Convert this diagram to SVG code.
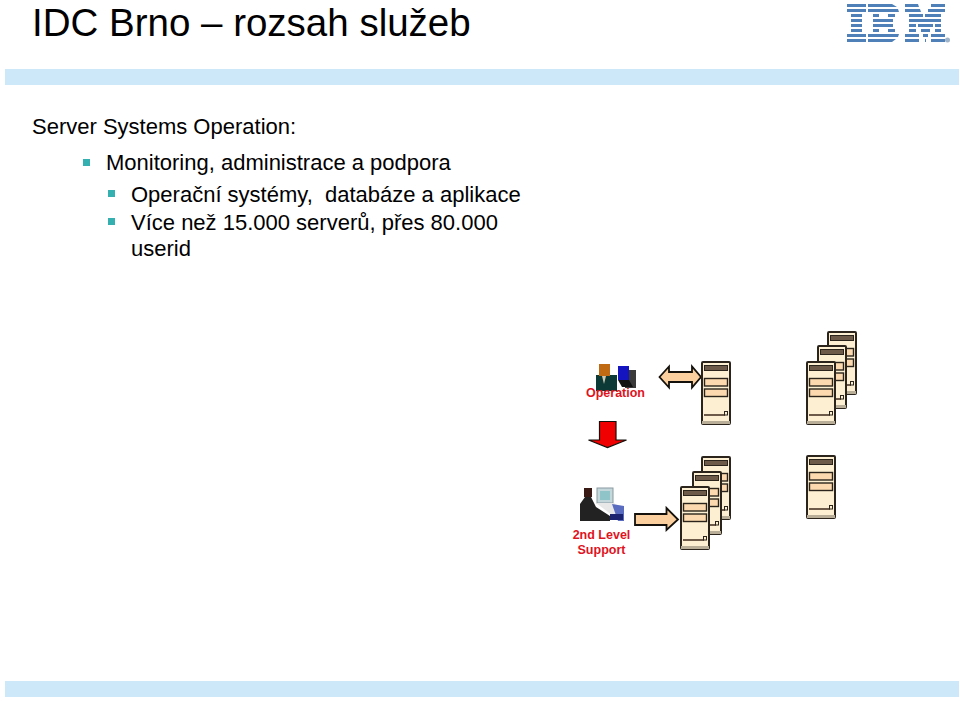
<svg xmlns="http://www.w3.org/2000/svg" width="960" height="701" viewBox="0 0 960 701">
<style>
text{font-family:"Liberation Sans",Arial,sans-serif;fill:#000;white-space:pre}
.b{font-size:22px}
.r{font-size:12.5px;font-weight:bold;fill:#e0141e;text-anchor:middle}
.band{fill:#cde8f8}
.l{fill:#4f81b8}
.bul{fill:#35b0b0}
.a{fill:#fbcf9e;stroke:#14110c;stroke-width:1.8}
</style>
<defs>
<symbol id="srv" viewBox="0 0 30 64" width="30" height="64" overflow="visible">
<rect x="1" y="1" width="28" height="62" rx="1" fill="#fdf0d2" stroke="#2a241c" stroke-width="2"/>
<rect x="1" y="60" width="28" height="3" fill="#b9ae98"/>
<rect x="3.500" y="4.500" width="23" height="5" fill="#6e5a48" stroke="#2a241c"/>
<rect x="3.500" y="17.500" width="23" height="7.500" fill="#fcd9ae" stroke="#2a241c" stroke-width="1.400"/>
<rect x="3.500" y="28" width="23" height="7.500" fill="#fcd9ae" stroke="#2a241c" stroke-width="1.400"/>
<rect x="3" y="53" width="21" height="2" fill="#6e5a48"/>
<rect x="23.500" y="50.500" width="3" height="3.500" fill="#fdf0d2" stroke="#2a241c"/>
</symbol>
</defs>
<rect width="960" height="701" fill="#fff"/>
<g id="bands">
<rect class="band" x="5" y="69" width="954" height="16"/>
<rect class="band" x="5" y="681" width="954" height="16"/>
</g>
<g id="title"><text x="32" y="36" font-size="38.500">IDC Brno – rozsah služeb</text></g>
<g id="logo" class="l">
<path d="M847 4h19v3h-19zM868 4h24l5 3h-29zM905 4h13l1 3h-14zM931 4h14v3h-14z"/>
<path d="M847 9h19v3h-19zM868 9h30l1 3h-31zM905 9h15l1 3h-16zM928 9h17v3h-17z"/>
<path d="M851 14h11v3h-11zM873 14h6v3h-6zM888 14h7v3h-7zM909 14h14v3h-14zM925 14h16v3h-16z"/>
<path d="M851 19h11v3h-11zM873 19h20v3h-20zM909 19h32v3h-32z"/>
<path d="M851 24h11v3h-11zM873 24h20v3h-20zM909 24h7v3h-7zM918 24h15v3h-15zM935 24h6v3h-6z"/>
<path d="M851 29h11v3h-11zM873 29h6v3h-6zM888 29h7v3h-7zM909 29h7v3h-7zM921 29h9v3h-9zM935 29h6v3h-6z"/>
<path d="M847 34h19v3h-19zM868 34h31l-1 3h-30zM905 34h14v3h-14zM923 34h5v3h-5zM931 34h14v3h-14z"/>
<path d="M847 39h19v3h-19zM868 39h28l-4 3h-24zM905 39h14v3h-14zM925 39h1v3h-1zM931 39h14v3h-14z"/>
<circle cx="947.500" cy="40" r="2.500" fill="#9fb4c8"/>
</g>
<g id="body">
<text class="b" x="32" y="134">Server Systems Operation:</text>
<rect class="bul" x="83" y="159" width="7" height="7"/>
<text class="b" x="106" y="170">Monitoring, administrace a podpora</text>
<rect class="bul" x="108" y="190" width="7" height="7"/>
<text class="b" x="131" y="202">Operační systémy,  databáze a aplikace</text>
<rect class="bul" x="108" y="218" width="7" height="7"/>
<text class="b" x="131" y="230">Více než 15.000 serverů, přes 80.000</text>
<text class="b" x="131" y="256">userid</text>
</g>
<g id="connectors">
<path class="a" d="M659.500 377L669 366.500V372H692V366.500L701 377L692 387.500V382H669V387.500Z"/>
<path d="M599.500 421.500H616V440H626.500L607.500 447.500L588.500 440H599.500Z" fill="#f00000" stroke="#14110c" stroke-width="1.200"/>
<path class="a" d="M635 514H666.500V508L678 519.500L666.500 530V525H635Z"/>
</g>
<g id="servers">
<use href="#srv" x="827" y="331"/>
<use href="#srv" x="817" y="345"/>
<use href="#srv" x="806" y="361"/>
<use href="#srv" x="701" y="361"/>
<use href="#srv" x="806" y="455"/>
<use href="#srv" x="701" y="456"/>
<use href="#srv" x="692" y="471"/>
<use href="#srv" x="680" y="486"/>
</g>
<g id="operation">
<rect x="596" y="375" width="21" height="16" fill="#0c3a36"/>
<rect x="599" y="364" width="11" height="12" fill="#c06a14"/>
<path d="M602 376h4l-2 8z" fill="#cfc7b0"/>
<rect x="625" y="370" width="11" height="18" fill="#3a3a3a"/>
<rect x="618" y="366" width="11" height="14" fill="#1414c0"/>
<path d="M618 380h11l4 7h-11z" fill="#111"/>
<text class="r" x="615.500" y="397">Operation</text>
</g>
<g id="support">
<rect x="597" y="488" width="16" height="15" fill="#c4d8dc" stroke="#8a9aa0"/>
<rect x="600" y="491" width="10" height="9" fill="#8fc4c8"/>
<path d="M596 503h18l8 6v6h-10z" fill="#e8e8e8"/>
<path d="M612 504l12 2v15h-6z" fill="#5a6cc0"/>
<path d="M584 488h8v9h-8z" fill="#3a1a14"/>
<path d="M580 521v-17l5-7h6l5 10 14 9v5z" fill="#222"/>
<rect x="610" y="514" width="13" height="6" fill="#1c2470"/>
<text class="r" x="601.500" y="539">2nd Level</text>
<text class="r" x="601.500" y="553.500">Support</text>
</g>
</svg>
